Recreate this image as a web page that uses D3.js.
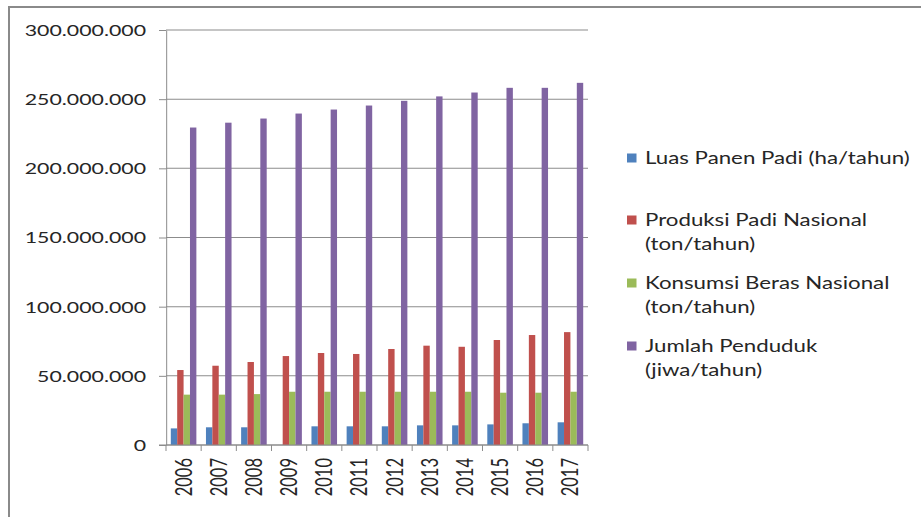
<!DOCTYPE html>
<html>
<head>
<meta charset="utf-8">
<script src="https://cdn.jsdelivr.net/npm/d3@7"></script>
<style>
  html, body { margin: 0; padding: 0; background: #fff; overflow: hidden; }
  svg { display: block; }
  text { font-family: Lato, "Open Sans", sans-serif; fill: #262626; }
  line, path, rect.frame { vector-effect: non-scaling-stroke; }
</style>
</head>
<body>
<svg id="chart"></svg>
<script>
// ---- data ----
const years = ["2006","2007","2008","2009","2010","2011","2012","2013","2014","2015","2016","2017"];
const luasPanen = [12.0e6, 12.8e6, 12.8e6, null, 13.5e6, 13.5e6, 13.5e6, 14.2e6, 14.2e6, 14.9e6, 15.7e6, 16.4e6];
const produksiPadi = [54.2e6, 57.3e6, 60.0e6, 64.3e6, 66.5e6, 65.8e6, 69.4e6, 71.8e6, 71.0e6, 75.9e6, 79.5e6, 81.6e6];
const konsumsiBeras = [36.4e6, 36.4e6, 36.8e6, 38.5e6, 38.5e6, 38.5e6, 38.5e6, 38.5e6, 38.5e6, 37.8e6, 37.8e6, 38.5e6];
const jumlahPenduduk = [229.5e6, 233.0e6, 236.0e6, 239.6e6, 242.5e6, 245.4e6, 248.8e6, 252.0e6, 254.8e6, 258.2e6, 258.2e6, 261.8e6];
const seriesNames = [["Luas Panen Padi (ha/tahun)"], ["Produksi Padi Nasional", "(ton/tahun)"], ["Konsumsi Beras Nasional", "(ton/tahun)"], ["Jumlah Penduduk", "(jiwa/tahun)"]];
const seriesColors = ["#4F81BD", "#C0504D", "#9BBB59", "#8064A2"];
const yTicks = [0, 50e6, 100e6, 150e6, 200e6, 250e6, 300e6];

const seriesValues = [luasPanen, produksiPadi, konsumsiBeras, jumlahPenduduk];

// ---- layout (horizontal stretch like the reference) ----
const W = 921, H = 517, SX = 1.35;
const VW = W / SX;
const X = px => px / SX;

const svg = d3.select("#chart")
  .attr("width", W).attr("height", H)
  .attr("viewBox", `0 0 ${VW} ${H}`)
  .attr("preserveAspectRatio", "none");

// frame
svg.append("rect").attr("class", "frame")
  .attr("x", X(9)).attr("y", 7).attr("width", VW).attr("height", H)
  .attr("fill", "none").attr("stroke", "#8a8a8a").attr("stroke-width", 2);

const plotL = X(166), plotR = X(588), plotT = 30, plotB = 445;

const y = d3.scaleLinear().domain([0, 300e6]).range([plotB, plotT]);
const x = d3.scaleBand().domain(years).range([plotL, plotR]);
const C = x.bandwidth();
const bw = C / 5.5;
const xs = d3.scaleBand().domain(d3.range(4)).range([0.75 * bw, C - 0.75 * bw]);

// gridlines
svg.append("g").selectAll("line").data(yTicks).join("line")
  .attr("x1", plotL).attr("x2", plotR)
  .attr("y1", d => y(d)).attr("y2", d => y(d))
  .attr("stroke", "#8c8c8c").attr("stroke-width", 1);

// y axis
const locale = d3.formatLocale({ decimal: ",", thousands: ".", grouping: [3], currency: ["", ""] });
const fmt = locale.format(",");
const yAxis = svg.append("g").attr("transform", `translate(${plotL},0)`)
  .call(d3.axisLeft(y).tickValues(yTicks).tickFormat(fmt).tickSize(X(7)).tickSizeOuter(0).tickPadding(X(13)));
yAxis.select(".domain").attr("stroke", "#8c8c8c");
yAxis.selectAll(".tick line").attr("stroke", "#8c8c8c");
yAxis.selectAll(".tick text").attr("font-size", 15.8).attr("dy", "0.34em")
  .style("font-family", "Lato, 'Open Sans', sans-serif").attr("fill", "#262626");

// bars
seriesValues.forEach((vals, si) => {
  svg.append("g").selectAll("rect")
    .data(years.map((yr, i) => ({ yr, v: vals[i] })).filter(d => d.v != null))
    .join("rect")
    .attr("x", d => x(d.yr) + xs(si))
    .attr("width", xs.bandwidth())
    .attr("y", d => y(d.v))
    .attr("height", d => y(0) - y(d.v))
    .attr("fill", seriesColors[si]);
});

// x axis
const xAxis = svg.append("g").attr("transform", `translate(0,${plotB})`)
  .call(d3.axisBottom(x).tickSize(0).tickSizeOuter(0));
xAxis.select(".domain").remove();
xAxis.selectAll(".tick text")
  .attr("transform", "rotate(-90)")
  .attr("x", -13).attr("y", 0).attr("dy", "0.36em")
  .attr("text-anchor", "end")
  .attr("font-size", 16.5)
  .style("font-family", "Lato, 'Open Sans', sans-serif").attr("fill", "#262626");
// category boundary ticks
svg.append("g").selectAll("line").data(years.concat(["end"])).join("line")
  .attr("x1", d => d === "end" ? plotR : x(d)).attr("x2", d => d === "end" ? plotR : x(d))
  .attr("y1", plotB).attr("y2", plotB + 6)
  .attr("stroke", "#8c8c8c");
svg.append("line").attr("x1", X(159)).attr("x2", plotR).attr("y1", plotB).attr("y2", plotB)
  .attr("stroke", "#8c8c8c");

// legend
const legendY = [158, 220, 283, 346];
const lg = svg.append("g");
seriesNames.forEach((lines, i) => {
  const cy = legendY[i];
  lg.append("rect").attr("x", X(627)).attr("y", cy - 4.5).attr("width", X(9.5)).attr("height", 9)
    .attr("fill", seriesColors[i]);
  lines.forEach((t, j) => {
    lg.append("text").attr("x", X(645)).attr("y", cy + 24 * j).attr("dy", "0.35em")
      .attr("font-size", 16.5).text(t);
  });
});
</script>
</body>
</html>
